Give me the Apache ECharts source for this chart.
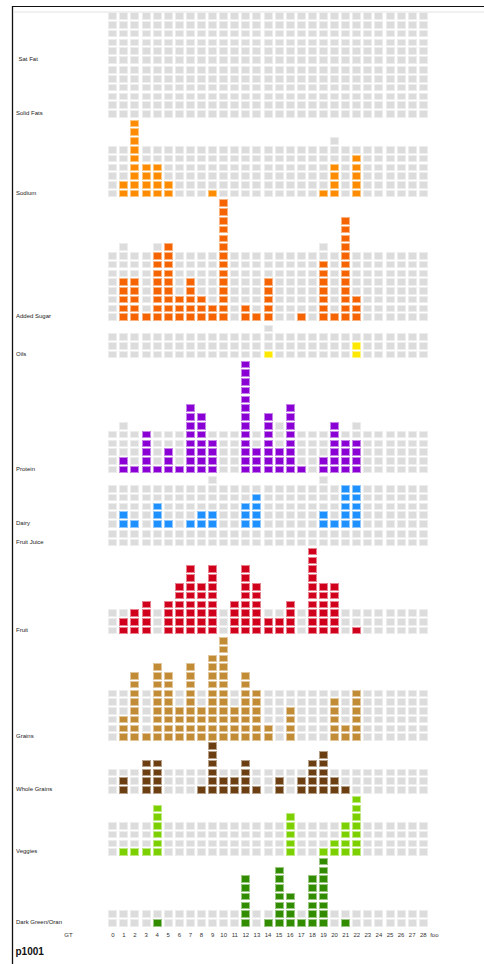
<!DOCTYPE html>
<html><head><meta charset="utf-8">
<script src="https://cdn.jsdelivr.net/npm/echarts@6/dist/echarts.min.js"></script>
<style>html,body{margin:0;padding:0;background:#fff}#c{width:484px;height:964px}</style>
</head><body><div id="c"></div>
<script>
// ---------- DATA ----------
const rowNames = ['Sat Fat','Solid Fats','Sodium','Added Sugar','Oils','Protein','Dairy','Fruit Juice','Fruit','Grains','Whole Grains','Veggies','Dark Green/Orange'];
const xLabels = ['GT','','','','0','1','2','3','4','5','6','7','8','9','10','11','12','13','14','15','16','17','18','19','20','21','22','23','24','25','26','27','28','foo'];
const dayCount = 29; // days 0..28

const satFatGrey    = [6,6,6,6,6,6,6,6,6,6,6,6,6,6,6,6,6,6,6,6,6,6,6,6,6,6,6,6,6];
const satFatVals    = [0,0,0,0,0,0,0,0,0,0,0,0,0,0,0,0,0,0,0,0,0,0,0,0,0,0,0,0,0];
const solidFatsGrey = [6,6,6,6,6,6,6,6,6,6,6,6,6,6,6,6,6,6,6,6,6,6,6,6,6,6,6,6,6];
const solidFatsVals = [0,0,0,0,0,0,0,0,0,0,0,0,0,0,0,0,0,0,0,0,0,0,0,0,0,0,0,0,0];
const sodiumGrey    = [6,6,6,6,6,6,6,6,6,6,6,6,6,6,6,6,6,6,6,6,7,6,6,6,6,6,6,6,6];
const sodiumVals    = [0,2,9,4,4,2,0,0,0,1,0,0,0,0,0,0,0,0,0,1,4,0,5,0,0,0,0,0,0];
const sugarGrey     = [8,9,8,8,9,8,8,8,8,8,8,8,8,8,8,8,8,8,8,9,8,8,8,8,8,8,8,8,8];
const sugarVals     = [0,5,5,1,8,9,3,5,3,2,14,0,2,1,5,0,0,1,0,7,1,12,3,0,0,0,0,0,0];
const oilsGrey      = [3,3,3,3,3,3,3,3,3,3,3,3,3,3,4,3,3,3,3,3,3,3,3,3,3,3,3,3,3];
const oilsVals      = [0,0,0,0,0,0,0,0,0,0,0,0,0,0,1,0,0,0,0,0,0,0,2,0,0,0,0,0,0];
const proteinGrey   = [5,6,5,5,5,5,5,5,5,5,5,5,5,5,5,6,5,5,5,5,5,5,6,5,5,5,5,5,5];
const proteinVals   = [0,2,1,5,1,3,1,8,7,4,0,0,13,3,7,3,8,1,0,2,6,4,4,0,0,0,0,0,0];
const dairyGrey     = [5,5,5,5,5,5,5,5,5,6,5,5,5,5,5,5,5,5,5,6,5,5,5,5,5,5,5,5,5];
const dairyVals     = [0,2,1,0,3,1,0,1,2,2,0,0,3,4,0,0,0,0,0,2,1,5,5,0,0,0,0,0,0];
const juiceGrey     = [2,2,2,2,2,2,2,2,2,2,2,2,2,2,2,2,2,2,2,2,2,2,2,2,2,2,2,2,2];
const juiceVals     = [0,0,0,0,0,0,0,0,0,0,0,0,0,0,0,0,0,0,0,0,0,0,0,0,0,0,0,0,0];
const fruitGrey     = [3,3,3,3,3,3,3,3,3,3,3,3,3,3,3,3,3,3,3,3,3,3,3,3,3,3,3,3,3];
const fruitVals     = [0,2,3,4,0,4,6,8,6,8,0,4,8,6,2,2,4,0,10,6,6,0,1,0,0,0,0,0,0];
const grainsGrey    = [6,6,6,6,6,6,6,6,6,6,6,6,6,6,6,6,6,6,6,6,6,6,6,6,6,6,6,6,6];
const grainsVals    = [0,3,8,1,9,8,4,9,4,10,12,4,8,6,2,0,4,0,0,0,5,2,6,0,0,0,0,0,0];
const wholeGrey     = [3,3,3,3,3,3,3,3,3,3,3,3,3,3,3,3,3,3,3,3,3,3,3,3,3,3,3,3,3];
const wholeVals     = [0,2,0,4,4,0,0,0,1,6,2,2,4,1,0,2,0,2,4,5,2,1,0,0,0,0,0,0,0];
const veggiesGrey   = [4,4,4,4,4,4,4,4,4,4,4,4,4,4,4,4,4,4,4,4,4,4,4,4,4,4,4,4,4];
const veggiesVals   = [0,1,1,1,6,0,0,0,0,0,0,0,0,0,0,0,5,0,0,1,2,4,7,0,0,0,0,0,0];
const darkGrey      = [2,2,2,2,2,2,2,2,2,2,2,2,2,2,2,2,2,2,2,2,2,2,2,2,2,2,2,2,2];
const darkVals      = [0,0,0,0,1,0,0,0,0,0,0,0,6,0,1,7,4,1,6,8,0,1,0,0,0,0,0,0,0];

const greyArrays = [satFatGrey,solidFatsGrey,sodiumGrey,sugarGrey,oilsGrey,proteinGrey,dairyGrey,juiceGrey,fruitGrey,grainsGrey,wholeGrey,veggiesGrey,darkGrey];
const valArrays  = [satFatVals,solidFatsVals,sodiumVals,sugarVals,oilsVals,proteinVals,dairyVals,juiceVals,fruitVals,grainsVals,wholeVals,veggiesVals,darkVals];

// ---------- STYLE / LAYOUT ----------
const rowColors = ['#999999','#999999','#FF8C00','#F56400','#FFE800','#8A00D4','#1E90FF','#cc0000','#D0001C','#C28B36','#6B3F12','#7CD000','#328C00'];
const rowBottoms = [64.3,118.3,198,321.6,359,474,528.3,547,635,741.6,794.3,856.6,927.3];
const pitch = 8.77;
const gridLeft = 62.9, gridWidth = 377.0;
const FONT = '"Liberation Sans", Arial, sans-serif';

function tint(hex, a){
  const n = parseInt(hex.slice(1),16);
  const r=(n>>16)&255,g=(n>>8)&255,b=n&255;
  const m=c=>Math.round(c+(255-c)*a);
  return 'rgb('+m(r)+','+m(g)+','+m(b)+')';
}

const grids=[],xAxes=[],yAxes=[],series=[],graphics=[];
rowNames.forEach((name,i)=>{
  const grey=greyArrays[i], vals=valArrays[i];
  let units=0;
  for(let c=0;c<dayCount;c++) units=Math.max(units,grey[c],vals[c]);
  const h=units*pitch, top=rowBottoms[i]-h;
  grids.push({left:gridLeft,width:gridWidth,top:top,height:h});
  const last = i===rowNames.length-1;
  xAxes.push({type:'category',gridIndex:i,data:xLabels,boundaryGap:true,show:true,
    axisLine:{show:false},axisTick:{show:false},splitLine:{show:false},
    axisLabel:{show:last,interval:0,fontSize:6,color:'#333',margin:5,fontFamily:FONT}});
  yAxes.push({type:'value',gridIndex:i,min:0,max:units,show:false});
  const color=rowColors[i], light=tint(color,0.5);
  const data=[];
  for(let c=0;c<dayCount;c++) data.push([c+4,grey[c],vals[c]]);
  series.push({type:'custom',xAxisIndex:i,yAxisIndex:i,clip:false,silent:true,
    encode:{x:0,y:1},data:data,
    renderItem:function(params,api){
      const cat=api.value(0), g=api.value(1), v=api.value(2);
      const n=Math.max(g,v), ch=[];
      for(let k=0;k<n;k++){
        const p0=api.coord([cat,k]), p1=api.coord([cat,k+1]);
        const x=Math.round(p0[0]-4.5);
        const yt=Math.round(p1[1]+0.6), yb=Math.round(p0[1]-0.6);
        const col=k<v;
        ch.push({type:'rect',shape:{x:x,y:yt,width:9,height:yb-yt},style:{fill:col?light:'#ededed'}});
        ch.push({type:'rect',shape:{x:x+1,y:yt+1,width:7,height:yb-yt-2},style:{fill:col?color:'#dcdcdc'}});
      }
      return {type:'group',children:ch};
    }});
  graphics.push({type:'text',x:(name==='Sat Fat'?18.5:16),y:rowBottoms[i]-5.5,
    style:{text:name,fontSize:6,fill:'#222',fontFamily:FONT,verticalAlign:'middle',
      width:50,overflow:'truncate',ellipsis:''}});
});

// frame lines
graphics.push({type:'line',shape:{x1:12.5,y1:6.5,x2:484,y2:6.5},style:{stroke:'#111',lineWidth:1}});
graphics.push({type:'line',shape:{x1:12.5,y1:6,x2:12.5,y2:964},style:{stroke:'#111',lineWidth:1.3}});
graphics.push({type:'line',shape:{x1:13,y1:12,x2:484,y2:12},style:{stroke:'#e2e2e2',lineWidth:1}});
graphics.push({type:'text',x:15.5,y:951.5,style:{text:'p1001',fontSize:10,fontWeight:'bold',fill:'#111',fontFamily:FONT,verticalAlign:'middle'}});

const chart=echarts.init(document.getElementById('c'),null,{renderer:'svg'});
chart.setOption({animation:false,backgroundColor:'#fff',grid:grids,xAxis:xAxes,yAxis:yAxes,series:series,graphic:graphics});
</script></body></html>
